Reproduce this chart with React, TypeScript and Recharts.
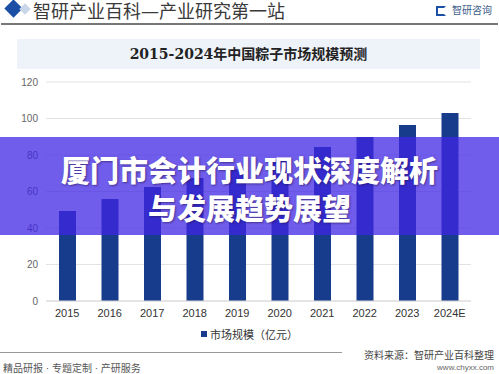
import React from 'react';
import { BarChart, Bar, XAxis, YAxis, CartesianGrid, Legend } from 'recharts';

const years = ['2015', '2016', '2017', '2018', '2019', '2020', '2021', '2022', '2023', '2024E'];
const marketSize = [49.3, 55.9, 62.5, 67.4, 72.2, 77.6, 84.4, 89.9, 96.4, 103.0];
const yTicks = [0, 20, 40, 60, 80, 100, 120];
const seriesName = '市场规模（亿元）';
const headerTitle = '智研产业百科—产业研究第一站';
const chartTitle = '2015-2024年中国粽子市场规模预测';
const overlayLines = ['厦门市会计行业现状深度解析', '与发展趋势展望'];

const data = years.map((y, i) => ({ year: y, value: marketSize[i] }));

const BAR_COLOR = '#183c8c';
const SANS = 'Arial, "Liberation Sans", "Noto Sans CJK SC", sans-serif';
const SERIF = '"DejaVu Serif", "Liberation Serif", "Noto Sans CJK SC", serif';

const LegendContent = () => (
  <div style={{ display: 'flex', justifyContent: 'center', alignItems: 'center', fontFamily: SANS, fontSize: 11, color: '#333' }}>
    <span style={{ display: 'inline-block', width: 6, height: 6, background: BAR_COLOR, marginRight: 3 }} />
    <span>{seriesName}</span>
  </div>
);

export default function App() {
  return (
    <div style={{ position: 'absolute', left: 0, top: 0, width: 499, height: 374, background: '#fff', overflow: 'hidden' }}>
      {/* header */}
      <div style={{ position: 'absolute', left: 7, top: 2, width: 13, height: 13, background: '#1b4fa5', transform: 'rotate(45deg)' }} />
      <div style={{ position: 'absolute', left: 21, top: 5, width: 8, height: 8, background: '#c9d6ea', transform: 'rotate(45deg)' }} />
      <div style={{ position: 'absolute', left: 33, top: 0, fontFamily: SERIF, fontSize: 18, color: '#3a3a3a', lineHeight: '24px', whiteSpace: 'nowrap' }}>{headerTitle}</div>
      <div style={{ position: 'absolute', left: 436, top: 6, width: 10, height: 10, border: '2px solid #1b4fa5', boxSizing: 'border-box', borderRightColor: 'transparent' }} />
      <div style={{ position: 'absolute', left: 452, top: 4, fontFamily: SANS, fontSize: 10, color: '#3a5a8a', lineHeight: '14px', whiteSpace: 'nowrap' }}>智研咨询</div>
      <div style={{ position: 'absolute', left: 1, top: 23, width: 497, height: 2, background: '#777' }} />

      {/* chart title box */}
      <div style={{ position: 'absolute', left: 17, top: 39, width: 463, height: 30, background: '#eef2f9' }} />
      <div style={{ position: 'absolute', left: 17, top: 39, width: 463, height: 30, lineHeight: '30px', textAlign: 'center', fontFamily: SERIF, fontWeight: 'bold', fontSize: 14, color: '#222' }}>{chartTitle}</div>

      <div style={{ position: 'absolute', left: 0, top: 0 }}>
        <BarChart width={499} height={374} data={data} margin={{ top: 82, right: 28, left: 0, bottom: 43 }}>
          <CartesianGrid horizontal vertical={false} stroke="#e3e3e3" />
          <XAxis dataKey="year" height={30} tickLine={false} axisLine={{ stroke: '#d8d8d8' }} tick={{ fontSize: 11, fill: '#333', fontFamily: SANS }} interval={0} />
          <YAxis width={46} domain={[0, 120]} ticks={yTicks} tickLine={false} axisLine={false} tick={{ fontSize: 10, fill: '#666', fontFamily: SANS }} />
          <Legend layout="horizontal" verticalAlign="middle" align="center" content={<LegendContent />} wrapperStyle={{ position: 'absolute', top: 326, left: 0, width: 499, height: 14 }} />
          <Bar dataKey="value" name={seriesName} fill={BAR_COLOR} barSize={17} isAnimationActive={false} />
        </BarChart>
      </div>

      {/* footer */}
      <div style={{ position: 'absolute', left: 0, top: 352, width: 342, height: 1, background: '#999' }} />
      <div style={{ position: 'absolute', left: 3, top: 360, fontFamily: SANS, fontSize: 10, color: '#555', whiteSpace: 'nowrap' }}>精品研报 · 专题定制 · 产研服务</div>
      <div style={{ position: 'absolute', right: 5, top: 347, fontFamily: SANS, fontSize: 10, color: '#444', whiteSpace: 'nowrap' }}>资料来源：智研产业百科整理</div>
      <div style={{ position: 'absolute', right: 5, top: 363, fontFamily: SANS, fontSize: 8, color: '#666', whiteSpace: 'nowrap' }}>www.chyxx.com</div>

      {/* overlay banner */}
      <div style={{ position: 'absolute', left: 0, top: 137, width: 499, height: 98, background: 'rgba(62, 36, 228, 0.74)' }} />
      <div style={{ position: 'absolute', left: 0, top: 150, width: 499, textAlign: 'center', fontFamily: '"Noto Sans CJK SC", sans-serif', fontWeight: 900, fontSize: 29, lineHeight: '38px', color: '#fff', textShadow: '1px 1px 2px rgba(40,20,90,0.6)' }}>
        {overlayLines.map((l) => (<div key={l}>{l}</div>))}
      </div>
    </div>
  );
}
